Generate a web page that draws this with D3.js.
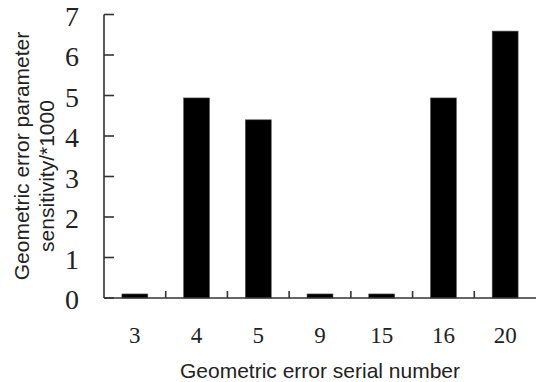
<!DOCTYPE html>
<html lang="en">
	<head>
		<meta charset="utf-8">
		<title>Geometric error parameter sensitivity</title>
		<script src="https://d3js.org/d3.v7.min.js"></script>
		<style type="text/css">
			body { margin: 0; background: #fff; }
			.tick-label { font-family: "Liberation Serif", "Times New Roman", serif; fill: #222; }
			.title { font-family: "Liberation Sans", Arial, sans-serif; font-size: 21px; fill: #222; }
		</style>
	</head>
	<body>
		<script type="text/javascript">
			// data
			var categories = ["3", "4", "5", "9", "15", "16", "20"];
			var values = [0.1, 4.94, 4.4, 0.1, 0.1, 4.94, 6.59];
			var yTicks = [0, 1, 2, 3, 4, 5, 6, 7];

			var w = 536;
			var h = 382;
			// plot edges (note: "top" is a reserved window name)
			var plotLeft = 104, plotRight = 536, plotTop = 14.5, plotBottom = 298;

			var svg = d3.select('body').append('svg').attr('width', w).attr('height', h);

			var xScale = d3.scaleBand()
				.domain(categories)
				.range([plotLeft, plotRight])
				.paddingInner(0.58)
				.paddingOuter(0.29);

			var yScale = d3.scaleLinear()
				.domain([0, 7])
				.range([plotBottom, plotTop]);

			// bars
			svg.selectAll('rect')
				.data(values)
				.enter()
				.append('rect')
					.attr('x', (d, i) => xScale(categories[i]))
					.attr('y', d => yScale(d))
					.attr('width', xScale.bandwidth())
					.attr('height', d => yScale(0) - yScale(d))
					.attr('fill', '#000')
					.attr('stroke', '#555')
					.attr('stroke-width', 0.6);

			var axisColor = '#333';

			// y axis line + inward ticks
			svg.append('line')
				.attr('x1', plotLeft).attr('x2', plotLeft)
				.attr('y1', yScale(7)).attr('y2', yScale(0))
				.attr('stroke', axisColor).attr('stroke-width', 1.6);

			svg.selectAll('.ytick')
				.data(yTicks)
				.enter()
				.append('line')
					.attr('class', 'ytick')
					.attr('x1', plotLeft).attr('x2', plotLeft + 10)
					.attr('y1', d => yScale(d)).attr('y2', d => yScale(d))
					.attr('stroke', axisColor).attr('stroke-width', 1.6);

			svg.selectAll('.ylab')
				.data(yTicks)
				.enter()
				.append('text')
					.attr('class', 'tick-label ylab')
					.attr('x', 79)
					.attr('y', d => yScale(d) + 11)
					.attr('text-anchor', 'end')
					.style('font-size', '28px')
					.text(d => d);

			// x axis line + upward ticks between bands
			svg.append('line')
				.attr('x1', plotLeft).attr('x2', plotRight)
				.attr('y1', yScale(0)).attr('y2', yScale(0))
				.attr('stroke', axisColor).attr('stroke-width', 1.6);

			var step = xScale.step();
			svg.selectAll('.xtick')
				.data(categories.slice(1))
				.enter()
				.append('line')
					.attr('class', 'xtick')
					.attr('x1', (d, i) => plotLeft + (i + 1) * step)
					.attr('x2', (d, i) => plotLeft + (i + 1) * step)
					.attr('y1', yScale(0)).attr('y2', yScale(0) - 7)
					.attr('stroke', axisColor).attr('stroke-width', 1.6);

			svg.selectAll('.xlab')
				.data(categories)
				.enter()
				.append('text')
					.attr('class', 'tick-label xlab')
					.attr('x', d => xScale(d) + xScale.bandwidth() / 2)
					.attr('y', 343)
					.attr('text-anchor', 'middle')
					.style('font-size', '23px')
					.text(d => d);

			// titles
			svg.append('text')
				.attr('class', 'title')
				.attr('x', 320).attr('y', 378)
				.attr('text-anchor', 'middle')
				.text('Geometric error serial number');

			svg.append('text')
				.attr('class', 'title')
				.attr('transform', 'translate(29,156) rotate(-90)')
				.attr('text-anchor', 'middle')
				.text('Geometric error parameter');

			svg.append('text')
				.attr('class', 'title')
				.attr('transform', 'translate(54,176) rotate(-90)')
				.attr('text-anchor', 'middle')
				.text('sensitivity/*1000');
		</script>
	</body>
</html>
